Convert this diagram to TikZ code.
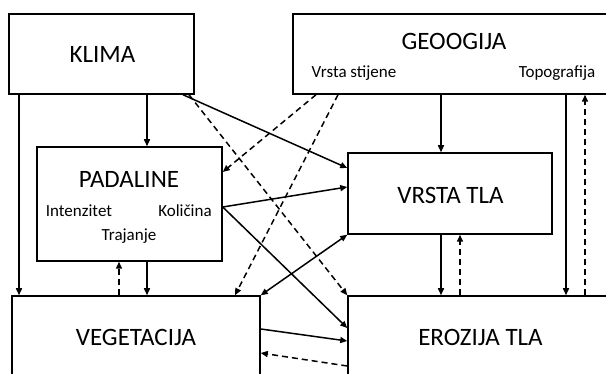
\documentclass[tikz,border=0pt]{standalone}
\usepackage{fontspec}
\setmainfont{Carlito}
\usetikzlibrary{arrows.meta}
\tikzset{
  box/.style={draw, rectangle, inner sep=0pt},
  big/.style={anchor=base, inner sep=0pt, font=\fontsize{25}{29}\selectfont},
  small/.style={anchor=base, inner sep=0pt, font=\fontsize{17}{20}\selectfont},
  arr/.style={-{Triangle[length=7pt,width=6pt]}},
  dsh/.style={dash pattern=on 6pt off 4pt}
}
\begin{document}
\begin{tikzpicture}[x=1pt, y=-1pt, line width = 1.5pt]
\useasboundingbox (0,0) rectangle (606,374);
\clip (0,0) rectangle (606,374);
% boxes
\node[box, minimum width=185pt, minimum height=80pt] (klima) at (101.5,54) {};
\node[box, minimum width=327pt, minimum height=80pt] (geo) at (456.5,54) {};
\node[box, minimum width=185pt, minimum height=114pt] (pad) at (129.5,204) {};
\node[box, minimum width=248pt, minimum height=88pt] (veg) at (136,340) {};
\node[box, minimum width=204pt, minimum height=81pt] (vrsta) at (450,193.5) {};
\node[box, minimum width=264pt, minimum height=88pt] (ero) at (480,340) {};
% texts
\node[big] (klimaT) at (102.5,63) {KLIMA};
\node[big] (geoT) at (454,50) {GEOOGIJA};
\node[small] (stijT) at (354,78) {Vrsta stijene};
\node[small] (topoT) at (557,78) {Topografija};
\node[big] (padT) at (129,188) {PADALINE};
\node[small] (intT) at (79,217) {Intenzitet};
\node[small] (kolT) at (185,217) {Količina};
\node[small] (traT) at (129,241) {Trajanje};
\node[big] (vegT) at (136,346) {VEGETACIJA};
\node[big] (vrstaT) at (450.5,204) {VRSTA TLA};
\node[big] (eroT) at (480.5,346) {EROZIJA TLA};
% klima
\draw[arr] (19,0 |- klima.south) -- (19,0 |- veg.north);
\draw[arr] (147,0 |- klima.south) -- (147,0 |- pad.north);
\draw[arr] (183,0 |- klima.south) -- (vrsta.west |- 0,168);
\draw[arr, dsh] (189,0 |- klima.south) -- (ero.north west);
% geologija
\draw[arr, dsh] (316,0 |- geo.south) -- (pad.east |- 0,172);
\draw[arr, dsh] (338,0 |- geo.south) -- (235,0 |- veg.north);
\draw[arr] (441,0 |- geo.south) -- (441,0 |- vrsta.north);
\draw[arr] (566,0 |- geo.south) -- (566,0 |- ero.north);
\draw[arr, dsh] (585,0 |- ero.north) -- (585,0 |- geo.south);
% padaline
\draw[arr] (pad.east |- 0,207) -- (vrsta.west |- 0,187);
\draw[arr] (pad.east |- 0,207) -- (ero.west |- 0,328);
\draw[arr] (147,0 |- pad.south) -- (147,0 |- veg.north);
\draw[arr, dsh] (119,0 |- veg.north) -- (119,0 |- pad.south);
% tlo i vegetacija
\draw[{Triangle[length=7pt,width=6pt]}-{Triangle[length=7pt,width=6pt]}] (veg.north east) -- (vrsta.south west);
\draw[arr] (441,0 |- vrsta.south) -- (441,0 |- ero.north);
\draw[arr, dsh] (460,0 |- ero.north) -- (460,0 |- vrsta.south);
\draw[arr] (veg.east |- 0,329) -- (ero.west |- 0,341);
\draw[arr, dsh] (ero.west |- 0,366) -- (veg.east |- 0,353);
\end{tikzpicture}
\end{document}
